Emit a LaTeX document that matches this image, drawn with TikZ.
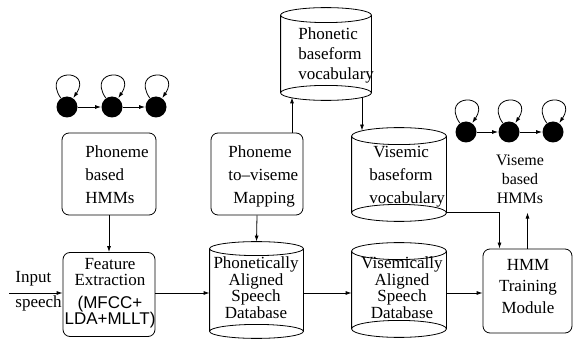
\documentclass[tikz,border=0pt]{standalone}
\usepackage{fontspec}
\setmainfont{Liberation Serif}
\setsansfont{Liberation Sans}
\usetikzlibrary{arrows.meta,calc}
\begin{document}
\begin{tikzpicture}[x=1pt,y=-1pt, line width=0.8pt, >={Latex[length=6pt,width=4pt]},
  box/.style={draw, rounded corners=7pt, inner sep=0pt},
  cylbox/.style={inner sep=0pt},
  lbl/.style={inner sep=0pt, font=\fontsize{17}{23}\selectfont},
  state/.style={circle, fill=black, inner sep=0pt, minimum size=21pt}]
\useasboundingbox (0,0) rectangle (573,339);

% boxes
\node[box, minimum width=94pt, minimum height=82pt] (ph) at (109,174) {};
\node[box, minimum width=92pt, minimum height=82pt] (map) at (257,174) {};
\node[box, minimum width=92pt, minimum height=84pt] (fe) at (109,294.5) {};
\node[box, minimum width=89pt, minimum height=84pt] (hmm) at (527.5,291) {};

% cylinders (frames)
\node[cylbox, minimum width=90pt, minimum height=92pt] (pv) at (326,54) {};
\node[cylbox, minimum width=94pt, minimum height=93pt] (vv) at (399,174.5) {};
\node[cylbox, minimum width=93pt, minimum height=96pt] (pd) at (256.5,290) {};
\node[cylbox, minimum width=94pt, minimum height=94pt] (vd) at (399,290) {};
\foreach \cy/\e in {pv/7.5pt, vv/8.5pt, pd/7pt, vd/8.5pt} {
  \draw let \p1=(\cy.west), \p2=(\cy.east) in
    ([yshift=-\e]\cy.north west) -- ([yshift=\e]\cy.south west)
    ([yshift=-\e]\cy.north east) -- ([yshift=\e]\cy.south east)
    ([yshift=-\e]\cy.north) ellipse [x radius={(\x2-\x1)/2}, y radius=\e]
    ([yshift=\e]\cy.south) ellipse [x radius={(\x2-\x1)/2}, y radius=\e];
}

% texts
\node[lbl, align=left, anchor=north west] (phT) at (85,145.4) {Phoneme\\based\\HMMs};
\node[lbl, align=left, anchor=north west] (mapT) at (228,145.4) {Phoneme\\to--viseme\\\hspace*{5pt}Mapping};
\node[lbl, align=center, anchor=north, font=\fontsize{17}{16.5}\selectfont] (feT) at (110,257.5)
  {Feature\\Extraction\\[6pt]{\sffamily (MFCC+}\hspace*{14pt}\\{\sffamily LDA+MLLT)}};
\node[lbl, anchor=base west] (inT) at (15,282) {Input};
\node[lbl, anchor=base west] (spT) at (15,307) {speech};
\node[lbl, align=center, anchor=north, font=\fontsize{17}{16.5}\selectfont] (pdT) at (256,256.4)
  {Phonetically\\Aligned\\Speech\\Database};
\node[lbl, align=center, anchor=north, font=\fontsize{17}{16.5}\selectfont] (vdT) at (402,256.4)
  {Visemically\\Aligned\\Speech\\Database};
\node[lbl, align=left, anchor=north west, font=\fontsize{17}{20}\selectfont] (pvT) at (298,27.4)
  {Phonetic\\baseform\\vocabulary};
\node[lbl, align=left, anchor=north west] (vvT) at (369,145.7)
  {\hspace*{4pt}Visemic\\baseform\\vocabulary};
\node[lbl, align=center, anchor=north, font=\fontsize{17}{21.5}\selectfont] (hmmT) at (528,258.7)
  {HMM\\Training\\Module};
\node[lbl, align=center, anchor=north, font=\fontsize{16}{19}\selectfont] (vhT) at (520,155)
  {Viseme\\based\\HMMs};

% HMM chains
\node[state] (c1) at (67,107) {};
\node[state] (c2) at (112,107) {};
\node[state] (c3) at (156,107) {};
\node[state] (d1) at (466,132) {};
\node[state] (d2) at (509,132) {};
\node[state] (d3) at (553,132) {};
\draw[->] (c1) -- (c2);
\draw[->] (c2) -- (c3);
\draw[->] (d1) -- (d2);
\draw[->] (d2) -- (d3);
\foreach \s in {c1,c2,c3,d1,d2,d3}
  \draw[->] (\s.125) .. controls +(-20,-30) and +(20,-30) .. (\s.55);

% connectors
\coordinate (inS) at (9,293);
\coordinate (row) at (0,293);
\draw[->] (inS) -- (inS -| fe.west);
\draw[->] (ph) -- (fe);
\draw[->] (fe.east |- row) -- (pd.west |- row);
\draw[->] (pd.east |- row) -- (vd.west |- row);
\draw[->] (vd.east |- row) -- (hmm.west |- row);
\draw[->] (map.south) -- (pd.north);
\draw[->] ([xshift=35pt]map.north) -- ([xshift=-34pt,yshift=3pt]pv.south);
\draw[->] ([xshift=36pt,yshift=3pt]pv.south) -- ([xshift=-37pt,yshift=-3pt]vv.north);
\draw[->] ([yshift=8.5pt]vv.south east) -| ([xshift=-28pt]hmm.north);
\draw[->, shorten >=8pt] (hmm.north) -- (hmm.north |- vhT.south);
\end{tikzpicture}
\end{document}
